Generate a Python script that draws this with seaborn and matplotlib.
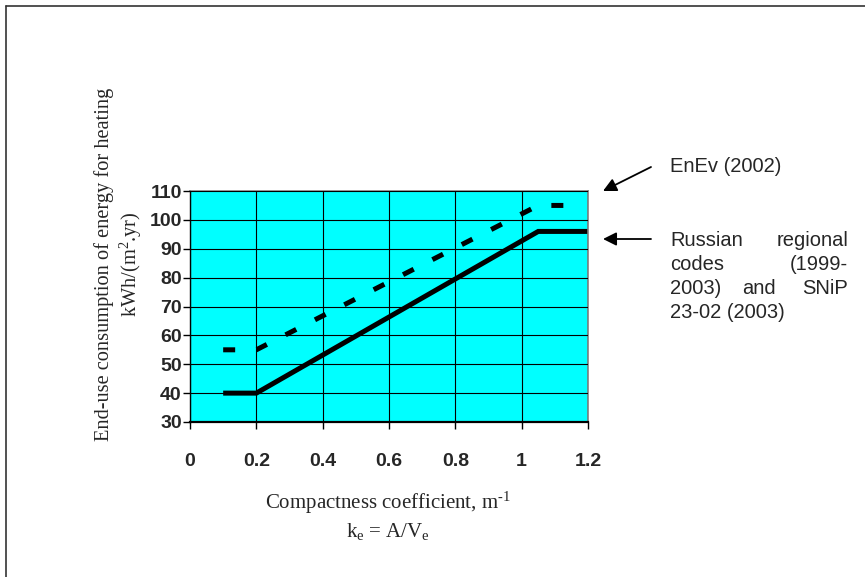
import matplotlib
matplotlib.use("Agg")
import matplotlib.pyplot as plt
import seaborn as sns
from matplotlib.lines import Line2D

# ---- Data -------------------------------------------------------------------

# EnEv (2002) requirement, dashed
enev_k = [0.1, 0.2, 1.05, 1.15]
enev_q = [55, 55, 105, 105]

# Russian regional codes / SNiP 23-02, solid
snip_k = [0.1, 0.2, 1.05, 1.2]
snip_q = [40, 40, 96, 96]

x_ticks = [0, 0.2, 0.4, 0.6, 0.8, 1.0, 1.2]
x_tick_labels = ["0", "0.2", "0.4", "0.6", "0.8", "1", "1.2"]
y_ticks = [30, 40, 50, 60, 70, 80, 90, 100, 110]

W, H = 865, 577

sns.set_style("white")
plt.rcParams["font.family"] = ["Liberation Sans", "DejaVu Sans"]
plt.rcParams["mathtext.fontset"] = "custom"
plt.rcParams["mathtext.rm"] = "Liberation Serif"
plt.rcParams["mathtext.it"] = "Liberation Serif:italic"

fig = plt.figure(figsize=(W / 100, H / 100), dpi=100)
ax = fig.add_axes([190 / W, 1 - 422 / H, 398 / W, 231 / H])
ax.set_facecolor("#00FFFF")

sns.lineplot(x=enev_k, y=enev_q, ax=ax, color="black", lw=3.6,
             linestyle=(0, (2.4, 4.2)), sort=False)
sns.lineplot(x=snip_k, y=snip_q, ax=ax, color="black", lw=3.6,
             sort=False, solid_capstyle="butt", solid_joinstyle="miter")

ax.set_xlim(0, 1.2)
ax.set_ylim(30, 110)
ax.set_xticks(x_ticks)
ax.set_xticklabels(x_tick_labels)
ax.set_yticks(y_ticks)
ax.grid(True, color="black", lw=0.8)
ax.set_axisbelow(False)
ax.tick_params(axis="both", which="both", direction="out", length=5,
               width=1, color="black", labelsize=14)
ax.tick_params(axis="x", pad=17)
ax.tick_params(axis="y", pad=1, left=True)
ax.tick_params(axis="x", bottom=True)
for lab in ax.get_xticklabels() + ax.get_yticklabels():
    lab.set_fontweight("bold")

for side in ["top", "right"]:
    ax.spines[side].set_color("#808080")
    ax.spines[side].set_linewidth(1.2)
ax.spines["left"].set_color("black")
ax.spines["left"].set_linewidth(1.0)
ax.spines["bottom"].set_color("black")
ax.spines["bottom"].set_linewidth(1.6)
ax.set_xlabel("")
ax.set_ylabel("")

serif = ["Liberation Serif", "DejaVu Serif"]

# axis titles
fig.text(104 / W, 1 - 264 / H, "End-use consumption of energy for heating",
         rotation=90, ha="center", va="center", fontsize=14.7, family=serif)
fig.text(131 / W, 1 - 264 / H, r"kWh/(m$^\mathrm{2}$.yr)",
         rotation=90, ha="center", va="center", fontsize=14.7, family=serif)
fig.text(388 / W, 1 - 503 / H, r"Compactness coefficient, m$^\mathrm{\text{-1}}$",
         ha="center", va="center", fontsize=15, family=serif)
fig.text(388 / W, 1 - 531 / H, r"k$_\mathrm{e}$ = A/V$_\mathrm{e}$",
         ha="center", va="center", fontsize=15, family=serif)

# right-hand annotations
sans = ["Liberation Sans", "DejaVu Sans"]
fig.text(670 / W, 1 - 166 / H, "EnEv (2002)", ha="left", va="center",
         fontsize=14.5, family=sans)

lines = [
    [("Russian", 670, "left"), ("regional", 848, "right")],
    [("codes", 670, "left"), ("(1999-", 848, "right")],
    [("2003)", 670, "left"), ("and", 759, "center"), ("SNiP", 848, "right")],
    [("23-02 (2003)", 670, "left")],
]
for i, words in enumerate(lines):
    y = 240 + i * 24
    for word, x, ha in words:
        fig.text(x / W, 1 - y / H, word, ha=ha, va="center",
                 fontsize=14.5, family=sans)

arrow = dict(arrowstyle="-|>", color="black", lw=1.3, mutation_scale=20,
             shrinkA=0, shrinkB=0)
fig.add_artist(matplotlib.patches.FancyArrowPatch(
    (651 / W, 1 - 167 / H), (603 / W, 1 - 191 / H),
    transform=fig.transFigure, **arrow))
fig.add_artist(matplotlib.patches.FancyArrowPatch(
    (651 / W, 1 - 239 / H), (603 / W, 1 - 239 / H),
    transform=fig.transFigure, **arrow))

# outer frame (top and left only)
fig.add_artist(Line2D([6 / W, 1], [1 - 6 / H, 1 - 6 / H], color="#333333",
                      lw=1.2, transform=fig.transFigure))
fig.add_artist(Line2D([6 / W, 6 / W], [0, 1 - 6 / H], color="#333333",
                      lw=1.2, transform=fig.transFigure))

fig.savefig("out.png", dpi=100)
